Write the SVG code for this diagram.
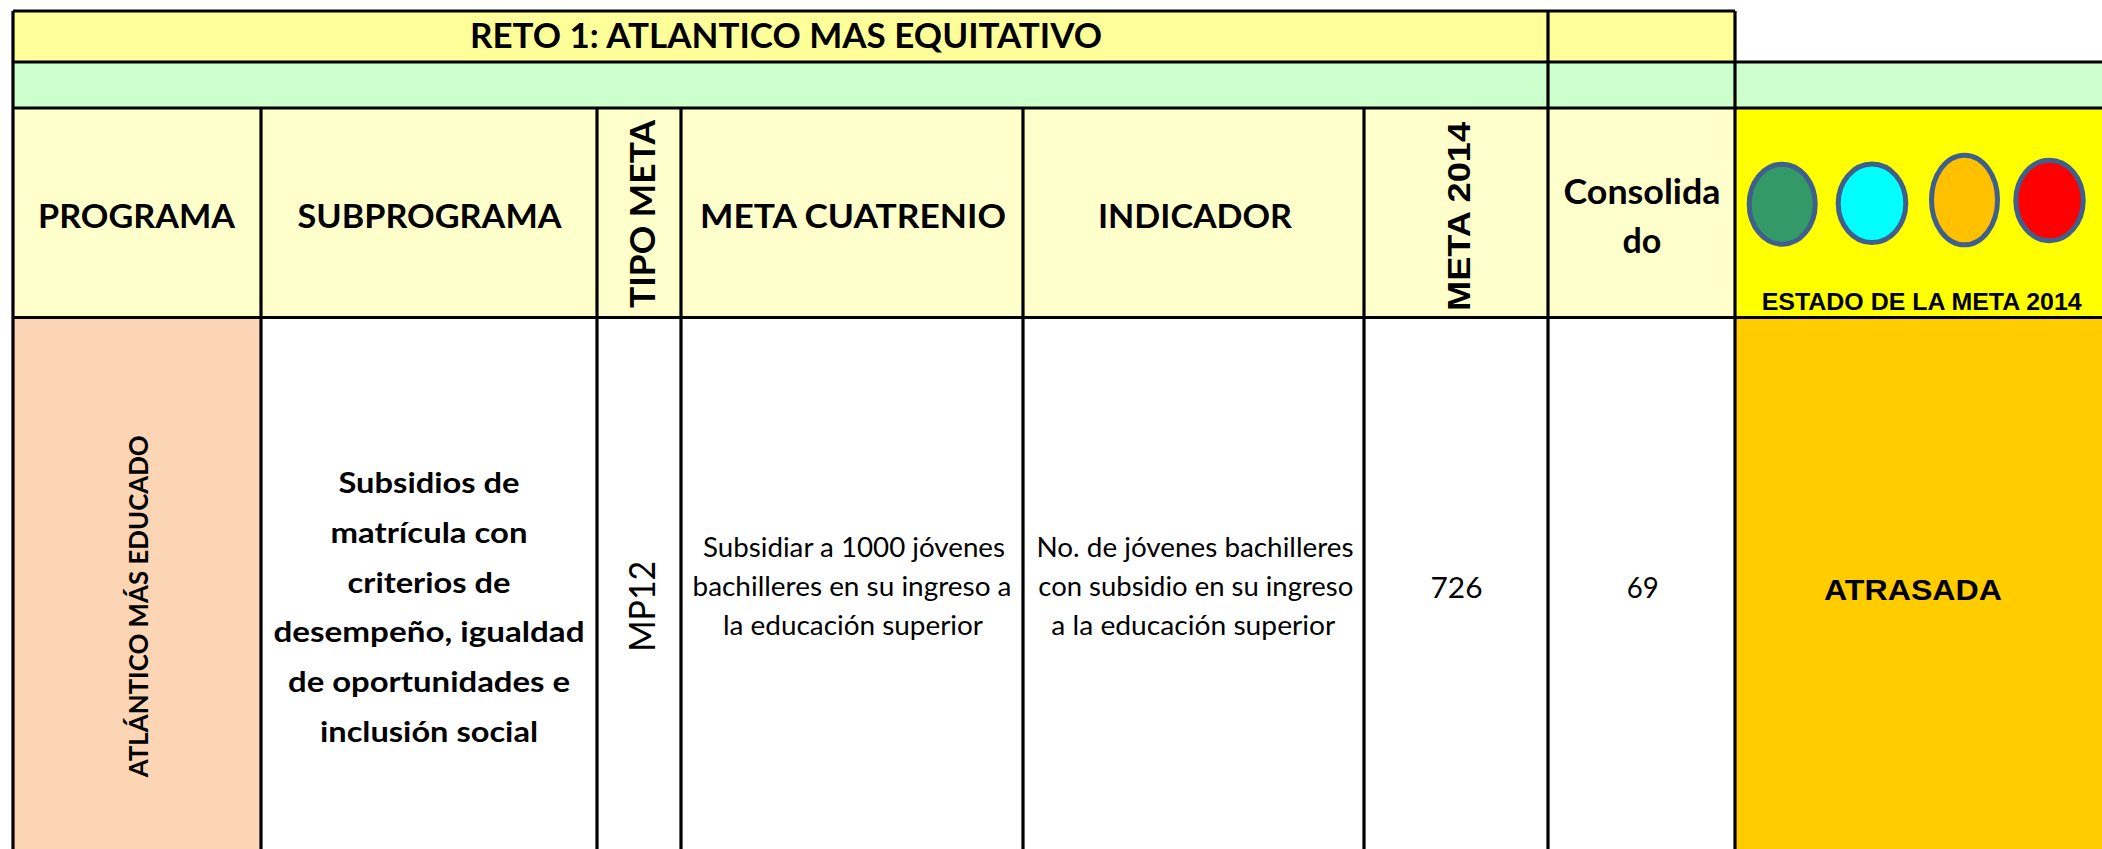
<svg xmlns="http://www.w3.org/2000/svg" width="2102" height="849" viewBox="0 0 2102 849">
<style>
.grid{stroke:#000;stroke-width:3.2;fill:none}
.hb{font-family:Lato,"Open Sans","Liberation Sans",sans-serif;font-weight:700;font-size:33px;fill:#000;text-anchor:middle}
.db{font-family:Lato,"Open Sans","Liberation Sans",sans-serif;font-weight:700;font-size:28.5px;fill:#000;text-anchor:middle}
.dr{font-family:Lato,"Open Sans","Liberation Sans",sans-serif;font-weight:400;font-size:26px;fill:#000;text-anchor:middle}
.ar{font-family:"Liberation Sans",Arial,sans-serif;font-weight:700;fill:#000;text-anchor:middle}
.lamp{stroke:#3F5F8C;stroke-width:5}
</style>
<g id="cells">
<rect x="13" y="11" width="1722" height="51" fill="#FFFF99"/>
<rect x="13" y="62" width="2089" height="46" fill="#CCFFCC"/>
<rect x="13" y="108" width="1722" height="209.5" fill="#FFFFCC"/>
<rect x="1735" y="108" width="367" height="209.5" fill="#FFFF00"/>
<rect x="13" y="317.5" width="248" height="531.5" fill="#FCD5B4"/>
<rect x="261" y="317.5" width="1474" height="531.5" fill="#FFFFFF"/>
<rect x="1735" y="317.5" width="367" height="531.5" fill="#FFCC00"/>
</g>
<g id="title">
<text class="hb" style="font-size:34px" x="786" y="48" textLength="632" lengthAdjust="spacingAndGlyphs">RETO 1:  ATLANTICO MAS EQUITATIVO</text>
</g>
<g id="h-programa"><text class="hb" x="136.5" y="228" textLength="197" lengthAdjust="spacingAndGlyphs">PROGRAMA</text></g>
<g id="h-subprograma"><text class="hb" x="429.5" y="228" textLength="264" lengthAdjust="spacingAndGlyphs">SUBPROGRAMA</text></g>
<g id="h-tipometa"><text class="hb" style="font-size:34px" transform="translate(655,214) rotate(-90)" x="0" y="0" textLength="188" lengthAdjust="spacingAndGlyphs">TIPO META</text></g>
<g id="h-metacuatrenio"><text class="hb" x="853" y="228" textLength="306" lengthAdjust="spacingAndGlyphs">META CUATRENIO</text></g>
<g id="h-indicador"><text class="hb" x="1195" y="228" textLength="194" lengthAdjust="spacingAndGlyphs">INDICADOR</text></g>
<g id="h-meta2014"><text class="ar" style="font-size:32px" transform="translate(1470,216.5) rotate(-90)" x="0" y="0" textLength="189" lengthAdjust="spacingAndGlyphs">META 2014</text></g>
<g id="h-consolidado">
<text class="hb" style="font-size:34px" x="1642" y="204" textLength="157" lengthAdjust="spacingAndGlyphs">Consolida</text>
<text class="hb" style="font-size:34px" x="1642" y="253">do</text>
</g>
<g id="h-estado">
<ellipse class="lamp" cx="1782.2" cy="204.2" rx="33" ry="40" fill="#339966"/>
<ellipse class="lamp" cx="1872" cy="203.3" rx="33.8" ry="39.2" fill="#00FFFF"/>
<ellipse class="lamp" cx="1964.5" cy="200" rx="33" ry="44.8" fill="#FFC000"/>
<ellipse class="lamp" cx="2049.5" cy="200.5" rx="33.7" ry="40.3" fill="#FF0000"/>
<text class="ar" style="font-size:24px" x="1921.7" y="310" textLength="320" lengthAdjust="spacingAndGlyphs">ESTADO DE LA META 2014</text>
</g>
<g id="d-programa"><text class="db" style="font-size:26px" transform="translate(148,606.3) rotate(-90)" x="0" y="0" textLength="342" lengthAdjust="spacingAndGlyphs">ATLÁNTICO MÁS EDUCADO</text></g>
<g id="d-subprograma">
<text class="db" x="429" y="492.5" textLength="181" lengthAdjust="spacingAndGlyphs">Subsidios de</text>
<text class="db" x="429" y="542.5" textLength="197" lengthAdjust="spacingAndGlyphs">matrícula con</text>
<text class="db" x="429" y="592.5" textLength="163" lengthAdjust="spacingAndGlyphs">criterios de</text>
<text class="db" x="429" y="642.4" textLength="311" lengthAdjust="spacingAndGlyphs">desempeño, igualdad</text>
<text class="db" x="429" y="692.3" textLength="282" lengthAdjust="spacingAndGlyphs">de oportunidades e</text>
<text class="db" x="429" y="742.2" textLength="218" lengthAdjust="spacingAndGlyphs">inclusión social</text>
</g>
<g id="d-tipometa"><text class="dr" style="font-size:36px" transform="translate(655,606.3) rotate(-90)" x="0" y="0" textLength="91" lengthAdjust="spacingAndGlyphs">MP12</text></g>
<g id="d-metacuatrenio">
<text class="dr" x="854" y="557" textLength="302" lengthAdjust="spacingAndGlyphs">Subsidiar a 1000 jóvenes</text>
<text class="dr" x="852" y="596" textLength="319" lengthAdjust="spacingAndGlyphs">bachilleres en su ingreso a</text>
<text class="dr" x="853" y="635" textLength="260" lengthAdjust="spacingAndGlyphs">la educación superior</text>
</g>
<g id="d-indicador">
<text class="dr" x="1195" y="557" textLength="317" lengthAdjust="spacingAndGlyphs">No. de jóvenes bachilleres</text>
<text class="dr" x="1195.8" y="596" textLength="315" lengthAdjust="spacingAndGlyphs">con subsidio en su ingreso</text>
<text class="dr" x="1193.3" y="635" textLength="284" lengthAdjust="spacingAndGlyphs">a la educación superior</text>
</g>
<g id="d-meta2014"><text class="dr" style="font-size:29px" x="1456.5" y="598" textLength="52" lengthAdjust="spacingAndGlyphs">726</text></g>
<g id="d-consolidado"><text class="dr" style="font-size:29px" x="1642.7" y="598" textLength="32" lengthAdjust="spacingAndGlyphs">69</text></g>
<g id="d-estado"><text class="ar" style="font-size:30px" x="1913" y="600" textLength="178" lengthAdjust="spacingAndGlyphs">ATRASADA</text></g>
<g id="connectors">
<path class="grid" d="M13 11H1735M13 62H2102M13 108H2102M13 317.5H2102M13 11V849M1548 11V849M1735 11V849M261 108V849M597 108V849M681 108V849M1023 108V849M1364 108V849"/>
</g>
</svg>
